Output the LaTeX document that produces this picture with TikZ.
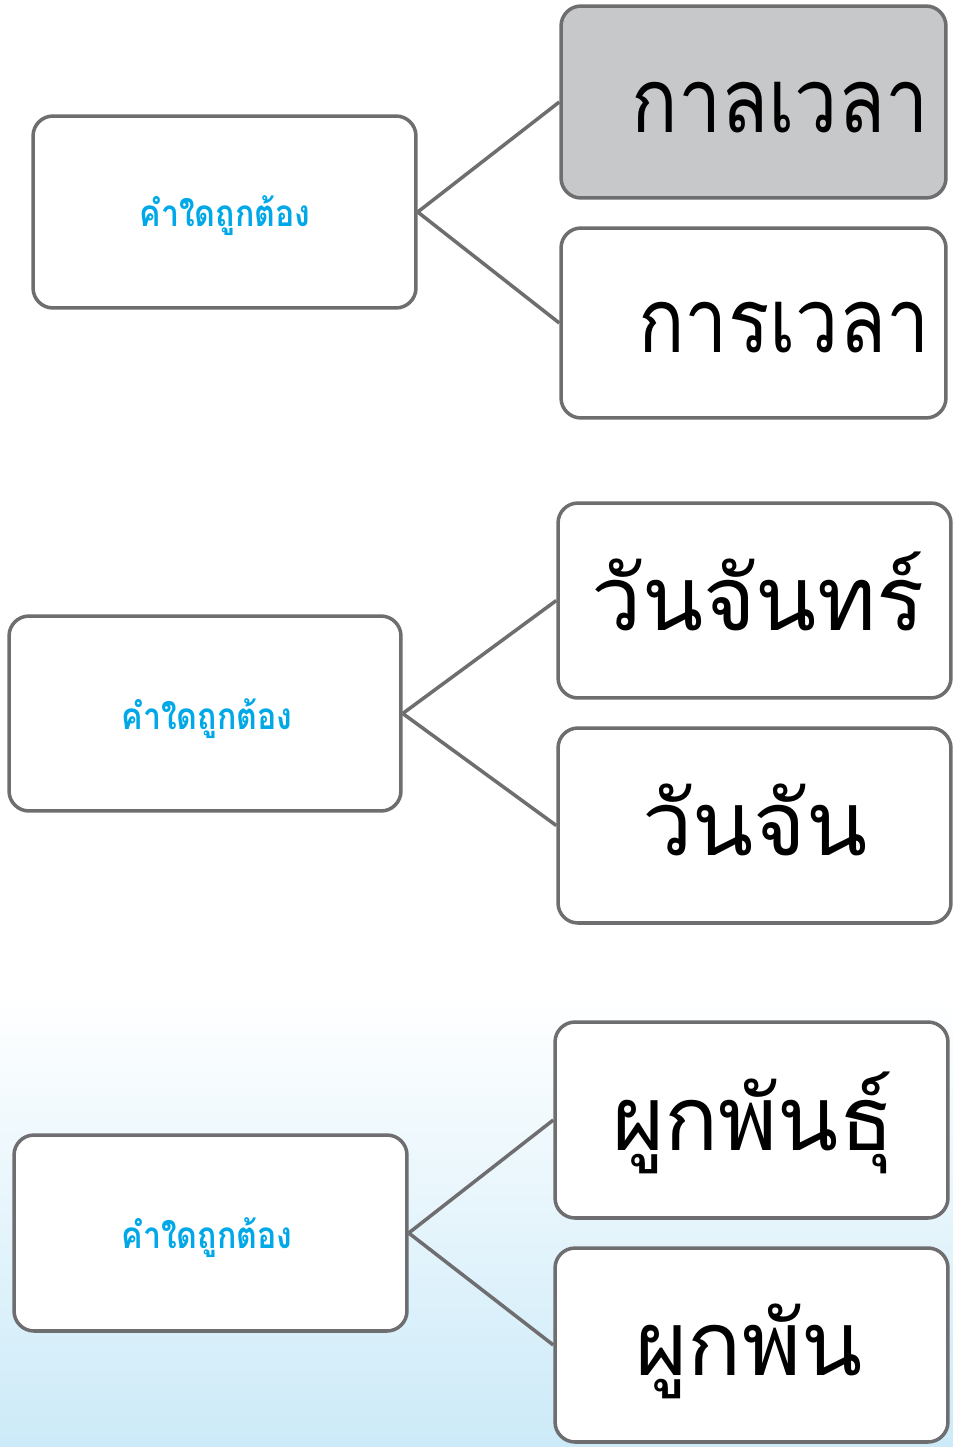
\documentclass[tikz,border=0pt]{standalone}
\usepackage{fontspec}
\newfontfamily\thaifont[Script=Thai]{Loma}
\definecolor{edgegray}{RGB}{110,110,112}
\definecolor{boxgray}{RGB}{199,200,202}
\definecolor{qcyan}{RGB}{0,168,232}
\definecolor{bgblue}{RGB}{204,234,248}
\newcommand{\qword}{\scalebox{0.87}[1]{คำใดถูกต้อง}}
\newcommand{\aword}[1]{\scalebox{0.86}[1]{#1}}
\newcommand{\wword}[1]{\scalebox{1.0}[1]{#1}}
\tikzset{
  box/.style={draw=edgegray, line width=2pt, rounded corners=0.4cm, fill=white, inner sep=0pt},
  qtext/.style={font=\thaifont\bfseries\fontsize{21}{24}\selectfont, text=qcyan, anchor=base, inner sep=0pt},
  atext/.style={font=\thaifont\fontsize{51}{60}\selectfont, text=black, anchor=base, inner sep=0pt},
  link/.style={draw=edgegray, line width=2pt}
}
\begin{document}
\begin{tikzpicture}[x=0.02cm,y=-0.02cm]
\useasboundingbox (0,0) rectangle (953,1447);
\fill[white] (0,0) rectangle (953,995);
\shade[top color=white, bottom color=bgblue] (0,995) rectangle (953,1447);
% group 1
\node[box, minimum width=7.66cm, minimum height=3.84cm] (q1) at (224.5,212) {};
\node[box, fill=boxgray, minimum width=7.7cm, minimum height=3.84cm] (a1) at (753.5,102) {};
\node[box, minimum width=7.7cm, minimum height=3.8cm] (b1) at (753.5,323) {};
\draw[link] (q1.east) -- (a1.west);
\draw[link] (q1.east) -- (b1.west);
\node[qtext] (tq1) at (225,226) {\qword};
\node[atext] (ta1) at (780,132) {\aword{กาลเวลา}};
\node[atext] (tb1) at (784,352) {\aword{การเวลา}};
% group 2
\node[box, minimum width=7.84cm, minimum height=3.9cm] (q2) at (205,713.5) {};
\node[box, minimum width=7.86cm, minimum height=3.9cm] (a2) at (754.5,600.5) {};
\node[box, minimum width=7.86cm, minimum height=3.9cm] (b2) at (754.5,825.5) {};
\draw[link] (q2.east) -- (a2.west);
\draw[link] (q2.east) -- (b2.west);
\node[qtext] (tq2) at (207,729) {\qword};
\node[atext] (ta2) at (758,630) {\wword{วันจันทร์}};
\node[atext] (tb2) at (755,855) {\wword{วันจัน}};
% group 3
\node[box, minimum width=7.86cm, minimum height=3.92cm] (q3) at (210.5,1233) {};
\node[box, minimum width=7.86cm, minimum height=3.92cm] (a3) at (751.5,1120) {};
\node[box, minimum width=7.86cm, minimum height=3.88cm] (b3) at (751.5,1345) {};
\draw[link] (q3.east) -- (a3.west);
\draw[link] (q3.east) -- (b3.west);
\node[qtext] (tq3) at (207,1248) {\qword};
\node[atext] (ta3) at (753,1150) {\wword{ผูกพันธุ์}};
\node[atext] (tb3) at (749,1375) {\wword{ผูกพัน}};
\end{tikzpicture}
\end{document}
